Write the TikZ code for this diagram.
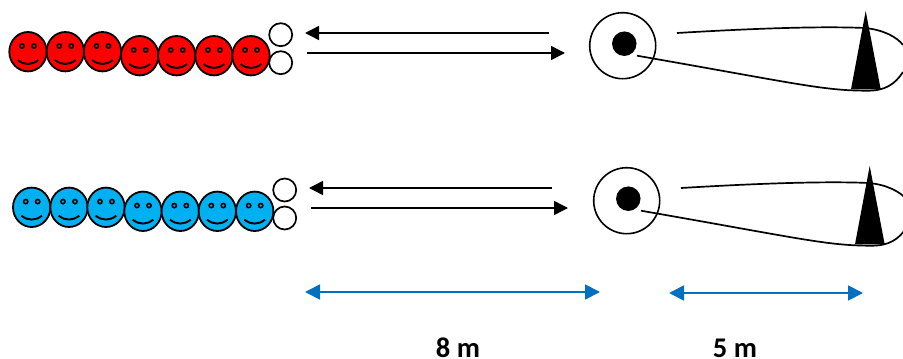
\documentclass[tikz,border=0pt]{standalone}
\usepackage{fontspec}
\setmainfont{Carlito}
\usetikzlibrary{arrows.meta}
\definecolor{smred}{HTML}{FF0000}
\definecolor{smblue}{HTML}{00B0F0}
\definecolor{dimblue}{HTML}{0070C0}
\tikzset{
  x=1pt,y=-1pt,
  flow/.style={line width=1.5pt,black,-{Triangle[length=14pt,width=14pt]}},
  dimline/.style={line width=1.8pt,dimblue,{Triangle[length=15pt,width=15pt]}-{Triangle[length=15pt,width=15pt]}},
  outline/.style={draw=black,line width=1.8pt},
  lab/.style={font=\bfseries\fontsize{28.5}{28.5}\selectfont,inner sep=0pt,anchor=base},
  ball/.style={circle,draw=black,line width=1.7pt,fill=white,minimum size=23pt,inner sep=0pt},
  pics/smiley/.style={code={
    \draw[outline,fill=#1] (0,0) ellipse [x radius=18.7,y radius=19.7];
    \draw[line width=1.6pt,fill=#1] (-6,-5.7) circle (2.1);
    \draw[line width=1.6pt,fill=#1] (6,-5.7) circle (2.1);
    \draw[line width=1.9pt] (-10.3,8.3) .. controls (-4,13.6) and (4,13.6) .. (10.3,8.3);
  }},
  pics/wheel/.style={code={
    \node[circle,draw=black,line width=1.6pt,minimum size=66pt,inner sep=0pt] (#1c) at (0,0) {};
    \node[circle,fill=black,minimum size=24.5pt,inner sep=0pt] (#1d) at (1.6,-2) {};
    \draw[line width=1.7pt] (54.3,-12.7) .. controls (110,-16) and (190,-20) .. (242.3,-17.7)
       .. controls (260,-16) and (274,-9) .. (280.3,-0.7);
    \draw[line width=1.7pt] (280.3,26.3) .. controls (272,39) and (262,45) .. (245,45)
       .. controls (200,45) and (175,38) .. (14.3,10);
    \fill[black] (243,-34.7) -- (228.3,43.6) -- (258,43.6) -- cycle;
  }}
}
\begin{document}
\begin{tikzpicture}
\useasboundingbox (0,0) rectangle (903,359);
% red row
\foreach \i/\cx/\cy in {1/28/51.7,2/65.3/51.7,3/102.5/51.7,4/139.7/55.7,5/176.7/55.7,6/214/55.7,7/251/55.7}
  \pic at (\cx,\cy) {smiley=smred};
\node[ball] (ra) at (280.7,34.7) {};
\node[ball] (rb) at (280.7,62.7) {};
% blue row
\foreach \i/\cx/\cy in {1/31.7/207.3,2/69/207.3,3/106/207.3,4/143/211.3,5/180.3/211.3,6/217.3/211.3,7/254.7/211.3}
  \pic at (\cx,\cy) {smiley=smblue};
\node[ball] (ba) at (284.7,190) {};
\node[ball] (bb) at (284.7,218) {};
% wheels
\pic at (622.7,45.7) {wheel=r};
\pic at (626.7,200.7) {wheel=b};
% flow arrows
\coordinate (r1s) at (549,33); \coordinate (r1e) at (305,33);
\coordinate (r2s) at (307,53); \coordinate (r2e) at (565,53);
\coordinate (b1s) at (552,188); \coordinate (b1e) at (309,188);
\coordinate (b2s) at (311,208); \coordinate (b2e) at (568,208);
\draw[flow] (r1s) -- (r1e);
\draw[flow] (r2s) -- (r2e);
\draw[flow] (b1s) -- (b1e);
\draw[flow] (b2s) -- (b2e);
% dimensions
\coordinate (d1a) at (305,292); \coordinate (d1b) at (600,292);
\coordinate (d2a) at (669,293); \coordinate (d2b) at (863,293);
\draw[dimline] (d1a) -- (d1b);
\draw[dimline] (d2a) -- (d2b);
\node[lab] (l8) at (458,357) {8 m};
\node[lab] (l5) at (735,357) {5 m};
\end{tikzpicture}
\end{document}
